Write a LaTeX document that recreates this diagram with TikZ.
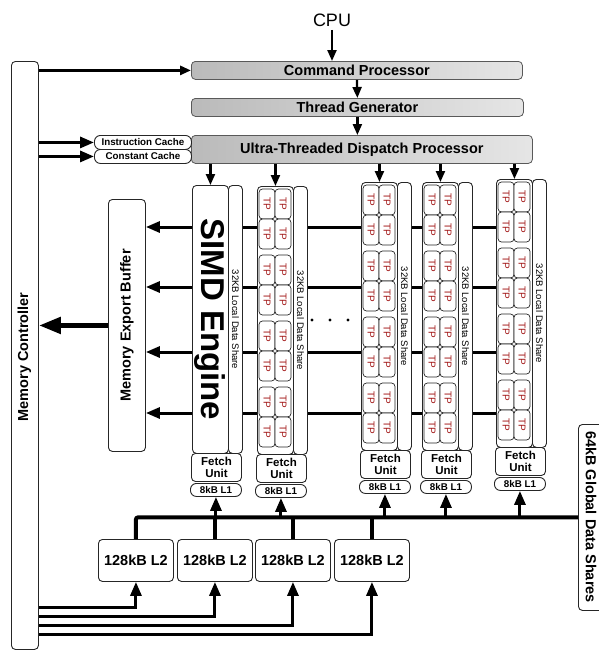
\documentclass[tikz,border=0pt]{standalone}
\usepackage{fontspec}
\setmainfont{Liberation Sans}
\usetikzlibrary{arrows.meta, positioning}
\definecolor{tpred}{HTML}{A31818}
\tikzset{
  blk/.style    ={draw=black!85, fill=white, rounded corners=4pt, line width=0.9pt, inner sep=0pt},
  ctrl/.style   ={draw=black!65, left color=black!27, right color=black!10, rounded corners=4pt, line width=0.8pt, inner sep=0pt, font=\fontsize{14.5}{16}\selectfont\bfseries},
  pill/.style   ={blk, rounded corners=6pt, font=\fontsize{9.8}{10}\selectfont\bfseries},
  tpcell/.style ={draw=black!85, fill=white, rounded corners=3.5pt, line width=0.7pt, rotate=-90, minimum width=30pt, minimum height=16pt, inner sep=0pt, text=tpred, font=\fontsize{10}{10}\selectfont},
  ldstxt/.style ={rotate=-90, font=\fontsize{9.5}{10}\selectfont},
  bigtxt/.style ={font=\fontsize{14.5}{16}\selectfont\bfseries},
  thinarr/.style={-{Triangle[length=11pt,width=9pt]}, line width=2.2pt},
  arr/.style    ={-{Triangle[length=14pt,width=11pt]}, line width=3pt},
  bigarr/.style ={-{Triangle[length=22pt,width=16pt]}, line width=5pt},
  bus/.style    ={line width=4pt},
}

\begin{document}
\begin{tikzpicture}[x=1pt, y=-1pt]
  \useasboundingbox (0,0) rectangle (598,651);

  % memory side
  \node[blk, anchor=north west, minimum width=27pt, minimum height=588pt] (mc) at (11,61) {};
  \node[bigtxt, rotate=90] at (24.5,357) {Memory Controller};
  \node[blk, anchor=north west, minimum width=37pt, minimum height=252pt] (meb) at (108,199) {};
  \node[bigtxt, rotate=90] at (meb.center) {Memory Export Buffer};

  % top: command path
  \node[font=\fontsize{18}{18}\selectfont] (cpu) at (332,20) {CPU};
  \node[ctrl, anchor=north west, minimum width=331pt, minimum height=18pt] (cp) at (191,61) {Command Processor};
  \node[ctrl, anchor=north west, minimum width=332pt, minimum height=18pt] (tg) at (191,98) {Thread Generator};
  \node[ctrl, anchor=north west, minimum width=341pt, minimum height=28pt] (ud) at (191,135) {Ultra-Threaded Dispatch Processor};
  \node[pill, anchor=north west, minimum width=97pt, minimum height=14pt] (ic) at (94,135) {Instruction Cache};
  \node[pill, anchor=north west, minimum width=97pt, minimum height=14pt] (cc) at (94,149) {Constant Cache};
  \draw[thinarr] (cpu.south) -- (cpu.south |- cp.north);
  \draw[thinarr] (cp.south) -- (tg.north);
  \draw[thinarr] (tg.south) -- (tg.south |- ud.north);
  \draw[thinarr, line width=2.8pt] (mc.east |- cp.west) -- (cp.west);
  \draw[arr] (mc.east |- ic.west) -- (ic.west);
  \draw[arr] (mc.east |- cc.west) -- (cc.west);

  % export lines (behind the columns)
  \foreach \k/\y in {1/227, 2/287, 3/352, 4/413} {
    \coordinate (h\k) at (496,\y);
    \draw[arr] (h\k) -- (meb.east |- h\k);
  }
  \draw[bigarr] (meb.west) -- (meb.west -| mc.east);
  \foreach \d in {312,330,348} \fill (\d,320) circle (1.6pt);

  % columns: array, local data share, fetch unit, L1
  \foreach \n/\x/\y in {1/192/185, 2/257/186, 3/361/182, 4/422/182, 5/496/179} {
    \node[blk, anchor=north west, minimum width=36pt, minimum height=268pt] (tp\n) at (\x,\y) {};
    \node[blk, anchor=north west, minimum width=14pt, minimum height=268pt] (lds\n) at (\x+36,\y) {};
    \node[ldstxt] at (lds\n.center) {32KB Local Data Share};
    \node[blk, anchor=north west, minimum width=50pt, minimum height=28pt, align=center,
          font=\fontsize{11.5}{12.5}\selectfont\bfseries] (fu\n) at (\x-1,\y+268) {Fetch\\Unit};
    \node[pill, anchor=north west, minimum width=51pt, minimum height=13pt] (lone\n) at (\x-2,\y+298) {8kB L1};
    \draw[thinarr] (ud.south -| tp\n.north) -- (tp\n.north);
  }
  \node[rotate=-90, font=\fontsize{33}{33}\selectfont\bfseries] at (tp1.center) {SIMD Engine};
  \foreach \n/\x/\y in {2/257/186, 3/361/182, 4/422/182, 5/496/179}
    \foreach \g in {0,...,3}
      \foreach \r in {0,1}
        \foreach \c in {0,1}
          \node[tpcell] (tp\n-\g\r\c) at (\x+10+16*\c, \y+18+66*\g+30*\r) {TP};

  % L2 and global data share
  \node[blk, anchor=north west, minimum width=30pt, minimum height=186pt] (gds) at (578,424) {};
  \node[bigtxt, rotate=-90] at (591,517) {64kB Global Data Shares};
  \foreach \m/\x in {a/98, b/177, c/255, d/334}
    \node[blk, bigtxt, anchor=north west, minimum width=75pt, minimum height=42pt] (l2\m) at (\x,539) {128kB L2};
  \draw[bus, rounded corners=2pt] (l2a.north) |- (gds.west);
  \foreach \m in {b,c,d} \draw[bus] (l2\m.north) -- (l2\m.north |- gds.west);
  \foreach \n in {1,...,5} \draw[arr] (lone\n.south |- gds.west) -- (lone\n.south);
  \foreach \m/\y in {a/607, b/616, c/625, d/634}
    \draw[arr] (mc.east |- 0,\y) -| (l2\m.south);
\end{tikzpicture}
\end{document}
